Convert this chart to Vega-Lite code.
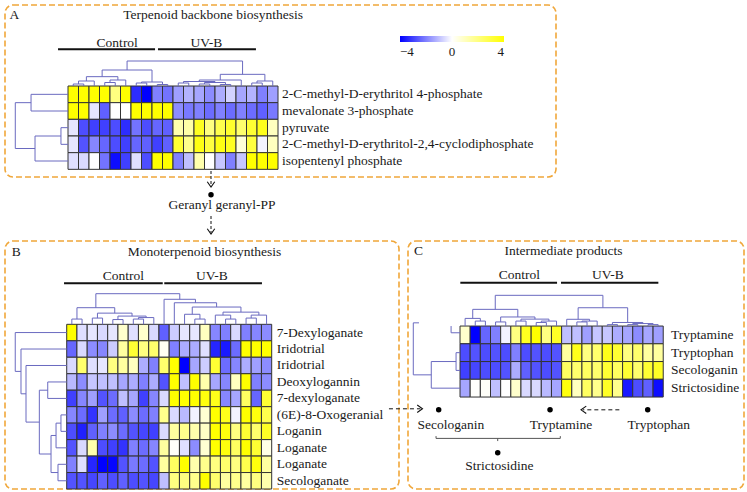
{
"$schema": "https://vega.github.io/schema/vega-lite/v6.json",
"padding": {"left": 4, "top": 4, "right": 4, "bottom": 4},
"background": "white",
"config": {
  "view": {"stroke": "#f0a73a", "strokeDash": [6, 3], "strokeWidth": 1.6, "cornerRadius": 8},
  "text": {"font": "Liberation Serif", "fontSize": 13.5, "color": "#1a1a1a", "baseline": "middle"},
  "legend": {"labelFont": "Liberation Serif"}
},
"datasets": {
  "heatA": [
    {"r":0,"c":0,"v":4},{"r":0,"c":1,"v":4},{"r":0,"c":2,"v":4},{"r":0,"c":3,"v":4},{"r":0,"c":4,"v":2},{"r":0,"c":5,"v":4},{"r":0,"c":6,"v":-3.3},{"r":0,"c":7,"v":-4},{"r":0,"c":8,"v":-2},{"r":0,"c":9,"v":-2.2},
    {"r":0,"c":10,"v":-1.5},{"r":0,"c":11,"v":-1.2},{"r":0,"c":12,"v":-1.4},{"r":0,"c":13,"v":-1.8},{"r":0,"c":14,"v":-1.3},{"r":0,"c":15,"v":-0.7},{"r":0,"c":16,"v":-1.4},{"r":0,"c":17,"v":-1.2},{"r":0,"c":18,"v":-2},{"r":0,"c":19,"v":-1.5},
    {"r":1,"c":0,"v":4},{"r":1,"c":1,"v":4},{"r":1,"c":2,"v":-0.4},{"r":1,"c":3,"v":-2.5},{"r":1,"c":4,"v":0},{"r":1,"c":5,"v":0},{"r":1,"c":6,"v":4},{"r":1,"c":7,"v":4},{"r":1,"c":8,"v":4},{"r":1,"c":9,"v":4},
    {"r":1,"c":10,"v":-1.8},{"r":1,"c":11,"v":-2.1},{"r":1,"c":12,"v":-2},{"r":1,"c":13,"v":-2.3},{"r":1,"c":14,"v":-2},{"r":1,"c":15,"v":-2.3},{"r":1,"c":16,"v":-2},{"r":1,"c":17,"v":-2.3},{"r":1,"c":18,"v":-2.5},{"r":1,"c":19,"v":-2.1},
    {"r":2,"c":0,"v":-0.4},{"r":2,"c":1,"v":-2.8},{"r":2,"c":2,"v":-3},{"r":2,"c":3,"v":-3},{"r":2,"c":4,"v":-2.8},{"r":2,"c":5,"v":-3.3},{"r":2,"c":6,"v":-2.2},{"r":2,"c":7,"v":-2.8},{"r":2,"c":8,"v":-2.4},{"r":2,"c":9,"v":-2.5},
    {"r":2,"c":10,"v":1.3},{"r":2,"c":11,"v":1.4},{"r":2,"c":12,"v":3.5},{"r":2,"c":13,"v":2},{"r":2,"c":14,"v":2.8},{"r":2,"c":15,"v":3.3},{"r":2,"c":16,"v":2.3},{"r":2,"c":17,"v":3.2},{"r":2,"c":18,"v":3.6},{"r":2,"c":19,"v":1},
    {"r":3,"c":0,"v":-0.4},{"r":3,"c":1,"v":-2.7},{"r":3,"c":2,"v":-1.9},{"r":3,"c":3,"v":-2.4},{"r":3,"c":4,"v":-2.8},{"r":3,"c":5,"v":-3},{"r":3,"c":6,"v":-2.4},{"r":3,"c":7,"v":-2.5},{"r":3,"c":8,"v":-3},{"r":3,"c":9,"v":-2.5},
    {"r":3,"c":10,"v":3.2},{"r":3,"c":11,"v":1.8},{"r":3,"c":12,"v":3.7},{"r":3,"c":13,"v":3},{"r":3,"c":14,"v":3.7},{"r":3,"c":15,"v":3.5},{"r":3,"c":16,"v":0.6},{"r":3,"c":17,"v":3},{"r":3,"c":18,"v":-0.2},{"r":3,"c":19,"v":1},
    {"r":4,"c":0,"v":-0.5},{"r":4,"c":1,"v":-0.6},{"r":4,"c":2,"v":0},{"r":4,"c":3,"v":-2.2},{"r":4,"c":4,"v":-3.8},{"r":4,"c":5,"v":-3},{"r":4,"c":6,"v":-0.5},{"r":4,"c":7,"v":-2.8},{"r":4,"c":8,"v":4},{"r":4,"c":9,"v":4},
    {"r":4,"c":10,"v":-2},{"r":4,"c":11,"v":-1},{"r":4,"c":12,"v":1.3},{"r":4,"c":13,"v":0},{"r":4,"c":14,"v":-0.9},{"r":4,"c":15,"v":-2},{"r":4,"c":16,"v":-0.9},{"r":4,"c":17,"v":4},{"r":4,"c":18,"v":4},{"r":4,"c":19,"v":4}
  ],
  "heatB": [
    {"r":0,"c":0,"v":4},{"r":0,"c":1,"v":-0.5},{"r":0,"c":2,"v":-0.4},{"r":0,"c":3,"v":-0.6},{"r":0,"c":4,"v":-0.4},{"r":0,"c":5,"v":0.8},{"r":0,"c":6,"v":-0.5},{"r":0,"c":7,"v":0.8},{"r":0,"c":8,"v":-0.6},{"r":0,"c":9,"v":-2.5},
    {"r":0,"c":10,"v":-0.8},{"r":0,"c":11,"v":-0.4},{"r":0,"c":12,"v":-0.4},{"r":0,"c":13,"v":1},{"r":0,"c":14,"v":-1.9},{"r":0,"c":15,"v":-2},{"r":0,"c":16,"v":-0.6},{"r":0,"c":17,"v":-2},{"r":0,"c":18,"v":-1.9},{"r":0,"c":19,"v":-1.8},
    {"r":1,"c":0,"v":-2.4},{"r":1,"c":1,"v":-0.6},{"r":1,"c":2,"v":-1.8},{"r":1,"c":3,"v":-1.9},{"r":1,"c":4,"v":-0.8},{"r":1,"c":5,"v":1.5},{"r":1,"c":6,"v":3.2},{"r":1,"c":7,"v":2},{"r":1,"c":8,"v":2.3},{"r":1,"c":9,"v":0.2},
    {"r":1,"c":10,"v":-2},{"r":1,"c":11,"v":-1.3},{"r":1,"c":12,"v":-1.3},{"r":1,"c":13,"v":-0.5},{"r":1,"c":14,"v":-3.4},{"r":1,"c":15,"v":-3.6},{"r":1,"c":16,"v":-2.3},{"r":1,"c":17,"v":4},{"r":1,"c":18,"v":4},{"r":1,"c":19,"v":4},
    {"r":2,"c":0,"v":-0.6},{"r":2,"c":1,"v":2.3},{"r":2,"c":2,"v":-0.5},{"r":2,"c":3,"v":-0.4},{"r":2,"c":4,"v":2},{"r":2,"c":5,"v":1.5},{"r":2,"c":6,"v":1},{"r":2,"c":7,"v":-1.3},{"r":2,"c":8,"v":-2},{"r":2,"c":9,"v":2.3},
    {"r":2,"c":10,"v":4},{"r":2,"c":11,"v":-4},{"r":2,"c":12,"v":-1.4},{"r":2,"c":13,"v":-0.8},{"r":2,"c":14,"v":3.2},{"r":2,"c":15,"v":-2.3},{"r":2,"c":16,"v":-1.9},{"r":2,"c":17,"v":-1.3},{"r":2,"c":18,"v":-1.5},{"r":2,"c":19,"v":-1.8},
    {"r":3,"c":0,"v":-1.1},{"r":3,"c":1,"v":-1.8},{"r":3,"c":2,"v":-0.9},{"r":3,"c":3,"v":-1},{"r":3,"c":4,"v":-1},{"r":3,"c":5,"v":-1.4},{"r":3,"c":6,"v":-1.3},{"r":3,"c":7,"v":-2},{"r":3,"c":8,"v":-1.3},{"r":3,"c":9,"v":-2.7},
    {"r":3,"c":10,"v":4},{"r":3,"c":11,"v":-1},{"r":3,"c":12,"v":4},{"r":3,"c":13,"v":1.3},{"r":3,"c":14,"v":-1.4},{"r":3,"c":15,"v":-1.9},{"r":3,"c":16,"v":1},{"r":3,"c":17,"v":4},{"r":3,"c":18,"v":-2},{"r":3,"c":19,"v":-1.8},
    {"r":4,"c":0,"v":-3},{"r":4,"c":1,"v":-1.9},{"r":4,"c":2,"v":-1.5},{"r":4,"c":3,"v":-2.7},{"r":4,"c":4,"v":-2.3},{"r":4,"c":5,"v":-1},{"r":4,"c":6,"v":-1.4},{"r":4,"c":7,"v":-3},{"r":4,"c":8,"v":-1.9},{"r":4,"c":9,"v":-0.6},
    {"r":4,"c":10,"v":4},{"r":4,"c":11,"v":4},{"r":4,"c":12,"v":4},{"r":4,"c":13,"v":3.8},{"r":4,"c":14,"v":3.6},{"r":4,"c":15,"v":-1.9},{"r":4,"c":16,"v":-1.4},{"r":4,"c":17,"v":2.5},{"r":4,"c":18,"v":-2.4},{"r":4,"c":19,"v":3.2},
    {"r":5,"c":0,"v":-1.9},{"r":5,"c":1,"v":-2.3},{"r":5,"c":2,"v":-3.2},{"r":5,"c":3,"v":-1.5},{"r":5,"c":4,"v":-2.3},{"r":5,"c":5,"v":-2.5},{"r":5,"c":6,"v":-1.8},{"r":5,"c":7,"v":-2.3},{"r":5,"c":8,"v":-2},{"r":5,"c":9,"v":1.8},
    {"r":5,"c":10,"v":-0.6},{"r":5,"c":11,"v":-1.1},{"r":5,"c":12,"v":-0.2},{"r":5,"c":13,"v":0.7},{"r":5,"c":14,"v":4},{"r":5,"c":15,"v":3.6},{"r":5,"c":16,"v":-0.2},{"r":5,"c":17,"v":4},{"r":5,"c":18,"v":3.8},{"r":5,"c":19,"v":2.8},
    {"r":6,"c":0,"v":-2.8},{"r":6,"c":1,"v":-3.5},{"r":6,"c":2,"v":-2.5},{"r":6,"c":3,"v":-2},{"r":6,"c":4,"v":-1.8},{"r":6,"c":5,"v":-2.3},{"r":6,"c":6,"v":-2.7},{"r":6,"c":7,"v":-2.9},{"r":6,"c":8,"v":-3},{"r":6,"c":9,"v":-0.6},
    {"r":6,"c":10,"v":1.5},{"r":6,"c":11,"v":1.8},{"r":6,"c":12,"v":1.3},{"r":6,"c":13,"v":0.9},{"r":6,"c":14,"v":4},{"r":6,"c":15,"v":3.8},{"r":6,"c":16,"v":2},{"r":6,"c":17,"v":3.2},{"r":6,"c":18,"v":2.3},{"r":6,"c":19,"v":3.4},
    {"r":7,"c":0,"v":-2.7},{"r":7,"c":1,"v":-0.6},{"r":7,"c":2,"v":1.3},{"r":7,"c":3,"v":-2.8},{"r":7,"c":4,"v":-3},{"r":7,"c":5,"v":-3.2},{"r":7,"c":6,"v":-2},{"r":7,"c":7,"v":-2.3},{"r":7,"c":8,"v":-1.9},{"r":7,"c":9,"v":1.5},
    {"r":7,"c":10,"v":0.1},{"r":7,"c":11,"v":-0.5},{"r":7,"c":12,"v":-1.8},{"r":7,"c":13,"v":0.7},{"r":7,"c":14,"v":4},{"r":7,"c":15,"v":3.8},{"r":7,"c":16,"v":2.5},{"r":7,"c":17,"v":4},{"r":7,"c":18,"v":3.2},{"r":7,"c":19,"v":0.4},
    {"r":8,"c":0,"v":-2},{"r":8,"c":1,"v":-0.5},{"r":8,"c":2,"v":-3.4},{"r":8,"c":3,"v":-4},{"r":8,"c":4,"v":-3.9},{"r":8,"c":5,"v":-2.7},{"r":8,"c":6,"v":-2.1},{"r":8,"c":7,"v":-2.3},{"r":8,"c":8,"v":-2.7},{"r":8,"c":9,"v":1.5},
    {"r":8,"c":10,"v":2.5},{"r":8,"c":11,"v":4},{"r":8,"c":12,"v":1.3},{"r":8,"c":13,"v":1.8},{"r":8,"c":14,"v":2},{"r":8,"c":15,"v":2.3},{"r":8,"c":16,"v":2},{"r":8,"c":17,"v":2.8},{"r":8,"c":18,"v":3.8},{"r":8,"c":19,"v":1.5},
    {"r":9,"c":0,"v":-2.7},{"r":9,"c":1,"v":-2.7},{"r":9,"c":2,"v":-2.9},{"r":9,"c":3,"v":-2.5},{"r":9,"c":4,"v":-2.8},{"r":9,"c":5,"v":-2.5},{"r":9,"c":6,"v":-2.8},{"r":9,"c":7,"v":-2.7},{"r":9,"c":8,"v":-2.9},{"r":9,"c":9,"v":-1},
    {"r":9,"c":10,"v":2},{"r":9,"c":11,"v":2},{"r":9,"c":12,"v":1.8},{"r":9,"c":13,"v":4},{"r":9,"c":14,"v":2.3},{"r":9,"c":15,"v":1.5},{"r":9,"c":16,"v":1.8},{"r":9,"c":17,"v":1.5},{"r":9,"c":18,"v":2},{"r":9,"c":19,"v":1.3}
  ],
  "heatC": [
    {"r":0,"c":0,"v":0.8},{"r":0,"c":1,"v":-4},{"r":0,"c":2,"v":-2.4},{"r":0,"c":3,"v":-2},{"r":0,"c":4,"v":-0.2},{"r":0,"c":5,"v":2},{"r":0,"c":6,"v":3.5},{"r":0,"c":7,"v":4},{"r":0,"c":8,"v":2},{"r":0,"c":9,"v":3.4},
    {"r":0,"c":10,"v":-1},{"r":0,"c":11,"v":-1},{"r":0,"c":12,"v":-1.5},{"r":0,"c":13,"v":-0.9},{"r":0,"c":14,"v":-0.9},{"r":0,"c":15,"v":-1.3},{"r":0,"c":16,"v":-1.4},{"r":0,"c":17,"v":-1.8},{"r":0,"c":18,"v":-1.4},{"r":0,"c":19,"v":-1.5},
    {"r":1,"c":0,"v":-2.8},{"r":1,"c":1,"v":-2.7},{"r":1,"c":2,"v":-2.8},{"r":1,"c":3,"v":-2.7},{"r":1,"c":4,"v":-2.8},{"r":1,"c":5,"v":-2},{"r":1,"c":6,"v":-2.8},{"r":1,"c":7,"v":-2.7},{"r":1,"c":8,"v":-2.8},{"r":1,"c":9,"v":-2.7},
    {"r":1,"c":10,"v":1.5},{"r":1,"c":11,"v":3.6},{"r":1,"c":12,"v":2},{"r":1,"c":13,"v":2.3},{"r":1,"c":14,"v":3.6},{"r":1,"c":15,"v":3.2},{"r":1,"c":16,"v":2},{"r":1,"c":17,"v":2.3},{"r":1,"c":18,"v":1.5},{"r":1,"c":19,"v":1.5},
    {"r":2,"c":0,"v":-3},{"r":2,"c":1,"v":-2.9},{"r":2,"c":2,"v":-2.8},{"r":2,"c":3,"v":-2.8},{"r":2,"c":4,"v":-2.7},{"r":2,"c":5,"v":-1.3},{"r":2,"c":6,"v":-2.5},{"r":2,"c":7,"v":-2.7},{"r":2,"c":8,"v":-2.8},{"r":2,"c":9,"v":-2.7},
    {"r":2,"c":10,"v":2.5},{"r":2,"c":11,"v":2.3},{"r":2,"c":12,"v":2.5},{"r":2,"c":13,"v":2.3},{"r":2,"c":14,"v":3.2},{"r":2,"c":15,"v":2.5},{"r":2,"c":16,"v":3.2},{"r":2,"c":17,"v":2.3},{"r":2,"c":18,"v":3.2},{"r":2,"c":19,"v":3.4},
    {"r":3,"c":0,"v":-1.4},{"r":3,"c":1,"v":0.05},{"r":3,"c":2,"v":0.1},{"r":3,"c":3,"v":-1},{"r":3,"c":4,"v":0},{"r":3,"c":5,"v":0.8},{"r":3,"c":6,"v":-0.6},{"r":3,"c":7,"v":-0.6},{"r":3,"c":8,"v":-1.1},{"r":3,"c":9,"v":-1.4},
    {"r":3,"c":10,"v":3.8},{"r":3,"c":11,"v":1},{"r":3,"c":12,"v":2.5},{"r":3,"c":13,"v":1.8},{"r":3,"c":14,"v":3.4},{"r":3,"c":15,"v":1.8},{"r":3,"c":16,"v":-3.6},{"r":3,"c":17,"v":-2.8},{"r":3,"c":18,"v":-2.5},{"r":3,"c":19,"v":-3.8}
  ],
  "rowsA": [
    {"r":0,"name":"2-C-methyl-D-erythritol 4-phosphate"},{"r":1,"name":"mevalonate 3-phosphate"},{"r":2,"name":"pyruvate"},
    {"r":3,"name":"2-C-methyl-D-erythritol-2,4-cyclodiphosphate"},{"r":4,"name":"isopentenyl phosphate"}
  ],
  "rowsB": [
    {"r":0,"name":"7-Dexyloganate"},{"r":1,"name":"Iridotrial"},{"r":2,"name":"Iridotrial"},{"r":3,"name":"Deoxylogannin"},{"r":4,"name":"7-dexyloganate"},
    {"r":5,"name":"(6E)-8-Oxogeranial"},{"r":6,"name":"Loganin"},{"r":7,"name":"Loganate"},{"r":8,"name":"Loganate"},{"r":9,"name":"Secologanate"}
  ],
  "rowsC": [
    {"r":0,"name":"Tryptamine"},{"r":1,"name":"Tryptophan"},{"r":2,"name":"Secologanin"},{"r":3,"name":"Strictosidine"}
  ],
  "treeA_top": [
    {"p1":0,"p2":1,"h":-0.62,"h1":-0.5,"h2":-0.5},{"p1":0.5,"p2":2,"h":-0.8,"h1":-0.62,"h2":-0.5},
    {"p1":3,"p2":4,"h":-0.71,"h1":-0.5,"h2":-0.5},{"p1":3.5,"p2":5,"h":-0.86,"h1":-0.71,"h2":-0.5},
    {"p1":1.25,"p2":4.25,"h":-1.06,"h1":-0.8,"h2":-0.86},{"p1":6,"p2":7,"h":-0.68,"h1":-0.5,"h2":-0.5},
    {"p1":8,"p2":9,"h":-0.59,"h1":-0.5,"h2":-0.5},{"p1":6.5,"p2":8.5,"h":-0.74,"h1":-0.68,"h2":-0.59},
    {"p1":2.75,"p2":7.5,"h":-1.46,"h1":-1.06,"h2":-0.74},{"p1":10,"p2":11,"h":-0.68,"h1":-0.5,"h2":-0.5},
    {"p1":12,"p2":13,"h":-0.62,"h1":-0.5,"h2":-0.5},{"p1":14,"p2":15,"h":-0.59,"h1":-0.5,"h2":-0.5},
    {"p1":12.5,"p2":14.5,"h":-0.71,"h1":-0.62,"h2":-0.59},{"p1":10.5,"p2":13.5,"h":-0.77,"h1":-0.68,"h2":-0.71},
    {"p1":12,"p2":16,"h":-0.86,"h1":-0.77,"h2":-0.5},{"p1":17,"p2":18,"h":-0.68,"h1":-0.5,"h2":-0.5},
    {"p1":17.5,"p2":19,"h":-0.8,"h1":-0.68,"h2":-0.5},{"p1":14,"p2":18.25,"h":-1.2,"h1":-0.86,"h2":-0.8},
    {"p1":5.125,"p2":16.125,"h":-2.0,"h1":-1.46,"h2":-1.2}
  ],
  "treeA_left": [
    {"p1":0,"p2":1,"h":-4.02,"h1":-0.5,"h2":-0.5},{"p1":2,"p2":3,"h":-1.17,"h1":-0.5,"h2":-0.5},
    {"p1":2.5,"p2":4,"h":-3.64,"h1":-1.17,"h2":-0.5},{"p1":0.5,"p2":3.25,"h":-5.52,"h1":-4.02,"h2":-3.64}
  ],
  "treeB_top": [
    {"p1":0,"p2":1,"h":-0.82,"h1":-0.5,"h2":-0.5},{"p1":2,"p2":3,"h":-0.88,"h1":-0.5,"h2":-0.5},
    {"p1":4,"p2":5,"h":-0.79,"h1":-0.5,"h2":-0.5},{"p1":6,"p2":7,"h":-0.82,"h1":-0.5,"h2":-0.5},
    {"p1":6.5,"p2":8,"h":-0.91,"h1":-0.82,"h2":-0.5},{"p1":4.5,"p2":7.25,"h":-1.0,"h1":-0.79,"h2":-0.91},
    {"p1":2.5,"p2":5.875,"h":-1.18,"h1":-0.88,"h2":-1.0},{"p1":0.5,"p2":4.1875,"h":-1.51,"h1":-0.82,"h2":-1.18},
    {"p1":12,"p2":13,"h":-0.82,"h1":-0.5,"h2":-0.5},{"p1":11,"p2":12.5,"h":-1.11,"h1":-0.5,"h2":-0.82},
    {"p1":15,"p2":16,"h":-0.82,"h1":-0.5,"h2":-0.5},{"p1":14,"p2":15.5,"h":-1.06,"h1":-0.5,"h2":-0.82},
    {"p1":17,"p2":18,"h":-0.88,"h1":-0.5,"h2":-0.5},{"p1":17.5,"p2":19,"h":-1.06,"h1":-0.88,"h2":-0.5},
    {"p1":14.75,"p2":18.25,"h":-1.24,"h1":-1.06,"h2":-1.06},{"p1":11.75,"p2":16.5,"h":-1.55,"h1":-1.11,"h2":-1.24},
    {"p1":10,"p2":14.125,"h":-1.81,"h1":-0.5,"h2":-1.55},{"p1":9,"p2":12.0625,"h":-2.02,"h1":-0.5,"h2":-1.81},
    {"p1":2.34375,"p2":10.53125,"h":-2.36,"h1":-1.51,"h2":-2.02}
  ],
  "treeB_left": [
    {"p1":5,"p2":6,"h":-1.06,"h1":-0.5,"h2":-0.5},{"p1":5.5,"p2":7,"h":-1.54,"h1":-1.06,"h2":-0.5},
    {"p1":8,"p2":9,"h":-1.35,"h1":-0.5,"h2":-0.5},{"p1":6.25,"p2":8.5,"h":-2.03,"h1":-1.54,"h2":-1.35},
    {"p1":3,"p2":4,"h":-2.35,"h1":-0.5,"h2":-0.5},{"p1":3.5,"p2":7.375,"h":-3.17,"h1":-2.35,"h2":-2.03},
    {"p1":2,"p2":5.4375,"h":-4.47,"h1":-0.5,"h2":-3.17},{"p1":1,"p2":3.71875,"h":-4.96,"h1":-0.5,"h2":-4.47},
    {"p1":0,"p2":2.359,"h":-5.52,"h1":-0.5,"h2":-4.96}
  ],
  "treeC_top": [
    {"p1":1,"p2":2,"h":-0.78,"h1":-0.5,"h2":-0.5},{"p1":0,"p2":1.5,"h":-0.93,"h1":-0.5,"h2":-0.78},
    {"p1":3,"p2":4,"h":-0.73,"h1":-0.5,"h2":-0.5},{"p1":5,"p2":6,"h":-0.78,"h1":-0.5,"h2":-0.5},
    {"p1":7,"p2":8,"h":-0.7,"h1":-0.5,"h2":-0.5},{"p1":7.5,"p2":9,"h":-0.78,"h1":-0.7,"h2":-0.5},
    {"p1":5.5,"p2":8.25,"h":-0.89,"h1":-0.78,"h2":-0.78},{"p1":3.5,"p2":6.875,"h":-1.01,"h1":-0.73,"h2":-0.89},
    {"p1":0.75,"p2":5.1875,"h":-1.44,"h1":-0.93,"h2":-1.01},{"p1":11,"p2":12,"h":-0.73,"h1":-0.5,"h2":-0.5},
    {"p1":11.5,"p2":13,"h":-0.78,"h1":-0.73,"h2":-0.5},{"p1":10,"p2":12.25,"h":-0.88,"h1":-0.5,"h2":-0.78},
    {"p1":14,"p2":15,"h":-0.58,"h1":-0.5,"h2":-0.5},{"p1":16,"p2":17,"h":-0.58,"h1":-0.5,"h2":-0.5},
    {"p1":18,"p2":19,"h":-0.58,"h1":-0.5,"h2":-0.5},{"p1":16.5,"p2":18.5,"h":-0.64,"h1":-0.58,"h2":-0.58},
    {"p1":14.5,"p2":17.5,"h":-0.7,"h1":-0.58,"h2":-0.64},{"p1":11.125,"p2":16,"h":-1.53,"h1":-0.88,"h2":-0.7},
    {"p1":2.96875,"p2":13.5625,"h":-2.23,"h1":-1.44,"h2":-1.53}
  ],
  "treeC_left": [
    {"p1":1,"p2":2,"h":-0.89,"h1":-0.5,"h2":-0.5},{"p1":1.5,"p2":3,"h":-3.33,"h1":-0.89,"h2":-0.5},
    {"p1":-0.68,"p2":2.25,"h":-5.1,"h1":-4.54,"h2":-3.33},{"p1":-0.5,"p2":-0.12,"h":-1.38,"h1":-1.38,"h2":-0.5}
  ],
  "groupsA": [
    {"group":"Control","x1":-1.45,"x2":7.79,"y":-2.7,"lx":4.19,"ly":-3.1},
    {"group":"UV-B","x1":8.07,"x2":17.4,"y":-2.7,"lx":12.67,"ly":-3.1}
  ],
  "groupsB": [
    {"group":"Control","x1":-0.76,"x2":8.87,"y":-2.99,"lx":5.04,"ly":-3.43},
    {"group":"UV-B","x1":9.02,"x2":18.55,"y":-2.99,"lx":13.67,"ly":-3.43}
  ],
  "groupsC": [
    {"group":"Control","x1":-0.47,"x2":9.05,"y":-2.94,"lx":5.34,"ly":-3.37},
    {"group":"UV-B","x1":9.44,"x2":19.02,"y":-2.94,"lx":14.04,"ly":-3.37}
  ],
  "notesA": [
    {"text":"A","x":-5.61,"y":-4.76},{"text":"Terpenoid backbone biosynthesis","x":13.31,"y":-4.76},
    {"text":"Geranyl geranyl-PP","x":14.17,"y":6.61}
  ],
  "notesB": [
    {"text":"B","x":-5.42,"y":-4.91},{"text":"Monoterpenoid biosynthesis","x":12.94,"y":-4.91}
  ],
  "notesC": [
    {"text":"C","x":-4.58,"y":-4.73},{"text":"Intermediate products","x":9.68,"y":-4.73},
    {"text":"Secologanin","x":-1.39,"y":5.07},{"text":"Tryptamine","x":9.44,"y":5.07},
    {"text":"Tryptophan","x":19.06,"y":5.07},{"text":"Strictosidine","x":3.37,"y":7.39}
  ],
  "dashA": [{"x":13.12,"x2":13.12,"y":4.6,"y2":5.4},{"x":13.12,"x2":13.12,"y":7.3,"y2":8.3}],
  "headsA": [{"x":13.12,"y":5.56},{"x":13.12,"y":8.38}],
  "dotsA": [{"x":13.12,"y":6.02}],
  "dashB": [{"x":30.94,"x2":34.0,"y":4.63,"y2":4.63}],
  "headsB": [{"x":34.21,"y":4.63}],
  "dashC": [{"x":15.18,"x2":11.6,"y":4.22,"y2":4.22}],
  "headsC": [{"x":11.41,"y":4.22}],
  "dotsC": [{"x":-2.6,"y":4.22},{"x":8.36,"y":4.22},{"x":17.97,"y":4.22},{"x":3.21,"y":6.64}],
  "bracketC": [
    {"x":-2.86,"x2":9.37,"y":5.83,"y2":5.83},{"x":-2.86,"x2":-2.86,"y":5.7,"y2":5.83},
    {"x":9.37,"x2":9.37,"y":5.7,"y2":5.83},{"x":3.21,"x2":3.21,"y":5.83,"y2":5.98}
  ]
},
"bounds": "flush",
"spacing": 64,
"resolve": {"scale": {"color": "independent"}, "legend": {"color": "independent"}},
"vconcat": [
  {
    "width": 551, "height": 172,
    "layer": [
      {"data": {"name": "heatA"},
       "mark": {"type": "point", "shape": "M-1,-1.5873L1,-1.5873L1,1.5873L-1,1.5873Z", "size": 110.25, "filled": true, "opacity": 1, "stroke": "#333333", "strokeWidth": 1},
       "encoding": {
         "x": {"field": "c", "type": "quantitative", "scale": {"domain": [-6.5, 45.976], "nice": false}, "axis": null},
         "y": {"field": "r", "type": "quantitative", "scale": {"domain": [-5.36, 4.96], "nice": false, "reverse": true}, "axis": null},
         "color": {"field": "v", "type": "quantitative",
           "scale": {"domain": [-4, 0, 4], "range": ["#0000ff", "#ffffff", "#ffff00"], "interpolate": "rgb"},
           "legend": {"orient": "none", "legendX": 395, "legendY": 31, "direction": "horizontal", "gradientLength": 104, "gradientThickness": 6, "title": null, "values": [-4, 0, 4], "labelFont": "Liberation Serif", "labelFontSize": 13, "labelColor": "#1a1a1a", "labelOffset": 4, "gradientStrokeWidth": 0}}
       }},
      {"data": {"name": "rowsA"},
       "mark": {"type": "text", "align": "left"},
       "encoding": {
         "x": {"datum": 19.88, "type": "quantitative", "scale": {"domain": [-6.5, 45.976], "nice": false}, "axis": null},
         "y": {"field": "r", "type": "quantitative", "scale": {"domain": [-5.36, 4.96], "nice": false, "reverse": true}, "axis": null},
         "text": {"field": "name"}
       }},
      {"data": {"name": "treeA_top"},
       "layer": [
         {"mark": {"type": "rule", "color": "#6a6ac0", "strokeWidth": 1},
          "encoding": {"x": {"field": "p1", "type": "quantitative", "scale": {"domain": [-6.5, 45.976], "nice": false}, "axis": null}, "x2": {"field": "p2"},
                       "y": {"field": "h", "type": "quantitative", "scale": {"domain": [-5.36, 4.96], "nice": false, "reverse": true}, "axis": null}}},
         {"mark": {"type": "rule", "color": "#6a6ac0", "strokeWidth": 1},
          "encoding": {"x": {"field": "p1", "type": "quantitative", "scale": {"domain": [-6.5, 45.976], "nice": false}, "axis": null},
                       "y": {"field": "h", "type": "quantitative", "scale": {"domain": [-5.36, 4.96], "nice": false, "reverse": true}, "axis": null}, "y2": {"field": "h1"}}},
         {"mark": {"type": "rule", "color": "#6a6ac0", "strokeWidth": 1},
          "encoding": {"x": {"field": "p2", "type": "quantitative", "scale": {"domain": [-6.5, 45.976], "nice": false}, "axis": null},
                       "y": {"field": "h", "type": "quantitative", "scale": {"domain": [-5.36, 4.96], "nice": false, "reverse": true}, "axis": null}, "y2": {"field": "h2"}}}
       ]},
      {"data": {"name": "treeA_left"},
       "layer": [
         {"mark": {"type": "rule", "color": "#6a6ac0", "strokeWidth": 1},
          "encoding": {"x": {"field": "h", "type": "quantitative", "scale": {"domain": [-6.5, 45.976], "nice": false}, "axis": null},
                       "y": {"field": "p1", "type": "quantitative", "scale": {"domain": [-5.36, 4.96], "nice": false, "reverse": true}, "axis": null}, "y2": {"field": "p2"}}},
         {"mark": {"type": "rule", "color": "#6a6ac0", "strokeWidth": 1},
          "encoding": {"x": {"field": "h", "type": "quantitative", "scale": {"domain": [-6.5, 45.976], "nice": false}, "axis": null}, "x2": {"field": "h1"},
                       "y": {"field": "p1", "type": "quantitative", "scale": {"domain": [-5.36, 4.96], "nice": false, "reverse": true}, "axis": null}}},
         {"mark": {"type": "rule", "color": "#6a6ac0", "strokeWidth": 1},
          "encoding": {"x": {"field": "h", "type": "quantitative", "scale": {"domain": [-6.5, 45.976], "nice": false}, "axis": null}, "x2": {"field": "h2"},
                       "y": {"field": "p2", "type": "quantitative", "scale": {"domain": [-5.36, 4.96], "nice": false, "reverse": true}, "axis": null}}}
       ]},
      {"data": {"name": "groupsA"},
       "layer": [
         {"mark": {"type": "rule", "color": "#111111", "strokeWidth": 2},
          "encoding": {"x": {"field": "x1", "type": "quantitative", "scale": {"domain": [-6.5, 45.976], "nice": false}, "axis": null}, "x2": {"field": "x2"},
                       "y": {"field": "y", "type": "quantitative", "scale": {"domain": [-5.36, 4.96], "nice": false, "reverse": true}, "axis": null}}},
         {"mark": {"type": "text", "align": "center"},
          "encoding": {"x": {"field": "lx", "type": "quantitative", "scale": {"domain": [-6.5, 45.976], "nice": false}, "axis": null},
                       "y": {"field": "ly", "type": "quantitative", "scale": {"domain": [-5.36, 4.96], "nice": false, "reverse": true}, "axis": null},
                       "text": {"field": "group"}}}
       ]},
      {"data": {"name": "notesA"},
       "mark": {"type": "text", "align": "center"},
       "encoding": {"x": {"field": "x", "type": "quantitative", "scale": {"domain": [-6.5, 45.976], "nice": false}, "axis": null},
                    "y": {"field": "y", "type": "quantitative", "scale": {"domain": [-5.36, 4.96], "nice": false, "reverse": true}, "axis": null},
                    "text": {"field": "text"}}},
      {"data": {"name": "dashA"},
       "mark": {"type": "rule", "color": "#111111", "strokeWidth": 1, "strokeDash": [3, 2]},
       "encoding": {"x": {"field": "x", "type": "quantitative", "scale": {"domain": [-6.5, 45.976], "nice": false}, "axis": null}, "x2": {"field": "x2"},
                    "y": {"field": "y", "type": "quantitative", "scale": {"domain": [-5.36, 4.96], "nice": false, "reverse": true}, "axis": null}, "y2": {"field": "y2"}}},
      {"data": {"name": "headsA"},
       "mark": {"type": "point", "shape": "M-1.4,-1L0,0L-1.4,1", "size": 56, "filled": false, "opacity": 1, "stroke": "#111111", "strokeWidth": 1.1, "angle": 90},
       "encoding": {"x": {"field": "x", "type": "quantitative", "scale": {"domain": [-6.5, 45.976], "nice": false}, "axis": null},
                    "y": {"field": "y", "type": "quantitative", "scale": {"domain": [-5.36, 4.96], "nice": false, "reverse": true}, "axis": null}}},
      {"data": {"name": "dotsA"},
       "mark": {"type": "point", "shape": "circle", "size": 30, "filled": true, "opacity": 1, "color": "#000000"},
       "encoding": {"x": {"field": "x", "type": "quantitative", "scale": {"domain": [-6.5, 45.976], "nice": false}, "axis": null},
                    "y": {"field": "y", "type": "quantitative", "scale": {"domain": [-5.36, 4.96], "nice": false, "reverse": true}, "axis": null}}}
    ]
  },
  {
    "bounds": "flush",
    "spacing": 9,
    "resolve": {"scale": {"color": "independent"}, "legend": {"color": "independent"}},
    "hconcat": [
      {
        "width": 394, "height": 248,
        "layer": [
          {"data": {"name": "heatB"},
           "mark": {"type": "point", "shape": "M-1,-1.6068L1,-1.6068L1,1.6068L-1,1.6068Z", "size": 105.06, "filled": true, "opacity": 1, "stroke": "#333333", "strokeWidth": 1},
           "encoding": {
             "x": {"field": "c", "type": "quantitative", "scale": {"domain": [-6.52, 31.92], "nice": false}, "axis": null},
             "y": {"field": "r", "type": "quantitative", "scale": {"domain": [-5.56, 9.5], "nice": false, "reverse": true}, "axis": null},
             "color": {"field": "v", "type": "quantitative",
               "scale": {"domain": [-4, 0, 4], "range": ["#0000ff", "#ffffff", "#ffff00"], "interpolate": "rgb"}, "legend": null}
           }},
          {"data": {"name": "rowsB"},
           "mark": {"type": "text", "align": "left"},
           "encoding": {
             "x": {"datum": 19.99, "type": "quantitative", "scale": {"domain": [-6.52, 31.92], "nice": false}, "axis": null},
             "y": {"field": "r", "type": "quantitative", "scale": {"domain": [-5.56, 9.5], "nice": false, "reverse": true}, "axis": null},
             "text": {"field": "name"}
           }},
          {"data": {"name": "treeB_top"},
           "layer": [
             {"mark": {"type": "rule", "color": "#6a6ac0", "strokeWidth": 1},
              "encoding": {"x": {"field": "p1", "type": "quantitative", "scale": {"domain": [-6.52, 31.92], "nice": false}, "axis": null}, "x2": {"field": "p2"},
                           "y": {"field": "h", "type": "quantitative", "scale": {"domain": [-5.56, 9.5], "nice": false, "reverse": true}, "axis": null}}},
             {"mark": {"type": "rule", "color": "#6a6ac0", "strokeWidth": 1},
              "encoding": {"x": {"field": "p1", "type": "quantitative", "scale": {"domain": [-6.52, 31.92], "nice": false}, "axis": null},
                           "y": {"field": "h", "type": "quantitative", "scale": {"domain": [-5.56, 9.5], "nice": false, "reverse": true}, "axis": null}, "y2": {"field": "h1"}}},
             {"mark": {"type": "rule", "color": "#6a6ac0", "strokeWidth": 1},
              "encoding": {"x": {"field": "p2", "type": "quantitative", "scale": {"domain": [-6.52, 31.92], "nice": false}, "axis": null},
                           "y": {"field": "h", "type": "quantitative", "scale": {"domain": [-5.56, 9.5], "nice": false, "reverse": true}, "axis": null}, "y2": {"field": "h2"}}}
           ]},
          {"data": {"name": "treeB_left"},
           "layer": [
             {"mark": {"type": "rule", "color": "#6a6ac0", "strokeWidth": 1},
              "encoding": {"x": {"field": "h", "type": "quantitative", "scale": {"domain": [-6.52, 31.92], "nice": false}, "axis": null},
                           "y": {"field": "p1", "type": "quantitative", "scale": {"domain": [-5.56, 9.5], "nice": false, "reverse": true}, "axis": null}, "y2": {"field": "p2"}}},
             {"mark": {"type": "rule", "color": "#6a6ac0", "strokeWidth": 1},
              "encoding": {"x": {"field": "h", "type": "quantitative", "scale": {"domain": [-6.52, 31.92], "nice": false}, "axis": null}, "x2": {"field": "h1"},
                           "y": {"field": "p1", "type": "quantitative", "scale": {"domain": [-5.56, 9.5], "nice": false, "reverse": true}, "axis": null}}},
             {"mark": {"type": "rule", "color": "#6a6ac0", "strokeWidth": 1},
              "encoding": {"x": {"field": "h", "type": "quantitative", "scale": {"domain": [-6.52, 31.92], "nice": false}, "axis": null}, "x2": {"field": "h2"},
                           "y": {"field": "p2", "type": "quantitative", "scale": {"domain": [-5.56, 9.5], "nice": false, "reverse": true}, "axis": null}}}
           ]},
          {"data": {"name": "groupsB"},
           "layer": [
             {"mark": {"type": "rule", "color": "#111111", "strokeWidth": 2},
              "encoding": {"x": {"field": "x1", "type": "quantitative", "scale": {"domain": [-6.52, 31.92], "nice": false}, "axis": null}, "x2": {"field": "x2"},
                           "y": {"field": "y", "type": "quantitative", "scale": {"domain": [-5.56, 9.5], "nice": false, "reverse": true}, "axis": null}}},
             {"mark": {"type": "text", "align": "center"},
              "encoding": {"x": {"field": "lx", "type": "quantitative", "scale": {"domain": [-6.52, 31.92], "nice": false}, "axis": null},
                           "y": {"field": "ly", "type": "quantitative", "scale": {"domain": [-5.56, 9.5], "nice": false, "reverse": true}, "axis": null},
                           "text": {"field": "group"}}}
           ]},
          {"data": {"name": "notesB"},
           "mark": {"type": "text", "align": "center"},
           "encoding": {"x": {"field": "x", "type": "quantitative", "scale": {"domain": [-6.52, 31.92], "nice": false}, "axis": null},
                        "y": {"field": "y", "type": "quantitative", "scale": {"domain": [-5.56, 9.5], "nice": false, "reverse": true}, "axis": null},
                        "text": {"field": "text"}}},
          {"data": {"name": "dashB"},
           "mark": {"type": "rule", "color": "#111111", "strokeWidth": 1, "strokeDash": [4, 3]},
           "encoding": {"x": {"field": "x", "type": "quantitative", "scale": {"domain": [-6.52, 31.92], "nice": false}, "axis": null}, "x2": {"field": "x2"},
                        "y": {"field": "y", "type": "quantitative", "scale": {"domain": [-5.56, 9.5], "nice": false, "reverse": true}, "axis": null}, "y2": {"field": "y2"}}},
          {"data": {"name": "headsB"},
           "mark": {"type": "point", "shape": "M-1.4,-1L0,0L-1.4,1", "size": 56, "filled": false, "opacity": 1, "stroke": "#111111", "strokeWidth": 1.1, "angle": 0},
           "encoding": {"x": {"field": "x", "type": "quantitative", "scale": {"domain": [-6.52, 31.92], "nice": false}, "axis": null},
                        "y": {"field": "y", "type": "quantitative", "scale": {"domain": [-5.56, 9.5], "nice": false, "reverse": true}, "axis": null}}}
        ]
      },
      {
        "width": 336, "height": 248,
        "layer": [
          {"data": {"name": "heatC"},
           "mark": {"type": "point", "shape": "M-1,-1.747L1,-1.747L1,1.747L-1,1.747Z", "size": 103.23, "filled": true, "opacity": 1, "stroke": "#333333", "strokeWidth": 1},
           "encoding": {
             "x": {"field": "c", "type": "quantitative", "scale": {"domain": [-5.62, 27.45], "nice": false}, "axis": null},
             "y": {"field": "r", "type": "quantitative", "scale": {"domain": [-5.29, 8.68], "nice": false, "reverse": true}, "axis": null},
             "color": {"field": "v", "type": "quantitative",
               "scale": {"domain": [-4, 0, 4], "range": ["#0000ff", "#ffffff", "#ffff00"], "interpolate": "rgb"}, "legend": null}
           }},
          {"data": {"name": "rowsC"},
           "mark": {"type": "text", "align": "left"},
           "encoding": {
             "x": {"datum": 20.27, "type": "quantitative", "scale": {"domain": [-5.62, 27.45], "nice": false}, "axis": null},
             "y": {"field": "r", "type": "quantitative", "scale": {"domain": [-5.29, 8.68], "nice": false, "reverse": true}, "axis": null},
             "text": {"field": "name"}
           }},
          {"data": {"name": "treeC_top"},
           "layer": [
             {"mark": {"type": "rule", "color": "#6a6ac0", "strokeWidth": 1},
              "encoding": {"x": {"field": "p1", "type": "quantitative", "scale": {"domain": [-5.62, 27.45], "nice": false}, "axis": null}, "x2": {"field": "p2"},
                           "y": {"field": "h", "type": "quantitative", "scale": {"domain": [-5.29, 8.68], "nice": false, "reverse": true}, "axis": null}}},
             {"mark": {"type": "rule", "color": "#6a6ac0", "strokeWidth": 1},
              "encoding": {"x": {"field": "p1", "type": "quantitative", "scale": {"domain": [-5.62, 27.45], "nice": false}, "axis": null},
                           "y": {"field": "h", "type": "quantitative", "scale": {"domain": [-5.29, 8.68], "nice": false, "reverse": true}, "axis": null}, "y2": {"field": "h1"}}},
             {"mark": {"type": "rule", "color": "#6a6ac0", "strokeWidth": 1},
              "encoding": {"x": {"field": "p2", "type": "quantitative", "scale": {"domain": [-5.62, 27.45], "nice": false}, "axis": null},
                           "y": {"field": "h", "type": "quantitative", "scale": {"domain": [-5.29, 8.68], "nice": false, "reverse": true}, "axis": null}, "y2": {"field": "h2"}}}
           ]},
          {"data": {"name": "treeC_left"},
           "layer": [
             {"mark": {"type": "rule", "color": "#6a6ac0", "strokeWidth": 1},
              "encoding": {"x": {"field": "h", "type": "quantitative", "scale": {"domain": [-5.62, 27.45], "nice": false}, "axis": null},
                           "y": {"field": "p1", "type": "quantitative", "scale": {"domain": [-5.29, 8.68], "nice": false, "reverse": true}, "axis": null}, "y2": {"field": "p2"}}},
             {"mark": {"type": "rule", "color": "#6a6ac0", "strokeWidth": 1},
              "encoding": {"x": {"field": "h", "type": "quantitative", "scale": {"domain": [-5.62, 27.45], "nice": false}, "axis": null}, "x2": {"field": "h1"},
                           "y": {"field": "p1", "type": "quantitative", "scale": {"domain": [-5.29, 8.68], "nice": false, "reverse": true}, "axis": null}}},
             {"mark": {"type": "rule", "color": "#6a6ac0", "strokeWidth": 1},
              "encoding": {"x": {"field": "h", "type": "quantitative", "scale": {"domain": [-5.62, 27.45], "nice": false}, "axis": null}, "x2": {"field": "h2"},
                           "y": {"field": "p2", "type": "quantitative", "scale": {"domain": [-5.29, 8.68], "nice": false, "reverse": true}, "axis": null}}}
           ]},
          {"data": {"name": "groupsC"},
           "layer": [
             {"mark": {"type": "rule", "color": "#111111", "strokeWidth": 2},
              "encoding": {"x": {"field": "x1", "type": "quantitative", "scale": {"domain": [-5.62, 27.45], "nice": false}, "axis": null}, "x2": {"field": "x2"},
                           "y": {"field": "y", "type": "quantitative", "scale": {"domain": [-5.29, 8.68], "nice": false, "reverse": true}, "axis": null}}},
             {"mark": {"type": "text", "align": "center"},
              "encoding": {"x": {"field": "lx", "type": "quantitative", "scale": {"domain": [-5.62, 27.45], "nice": false}, "axis": null},
                           "y": {"field": "ly", "type": "quantitative", "scale": {"domain": [-5.29, 8.68], "nice": false, "reverse": true}, "axis": null},
                           "text": {"field": "group"}}}
           ]},
          {"data": {"name": "notesC"},
           "mark": {"type": "text", "align": "center"},
           "encoding": {"x": {"field": "x", "type": "quantitative", "scale": {"domain": [-5.62, 27.45], "nice": false}, "axis": null},
                        "y": {"field": "y", "type": "quantitative", "scale": {"domain": [-5.29, 8.68], "nice": false, "reverse": true}, "axis": null},
                        "text": {"field": "text"}}},
          {"data": {"name": "dashC"},
           "mark": {"type": "rule", "color": "#111111", "strokeWidth": 1, "strokeDash": [4, 3]},
           "encoding": {"x": {"field": "x", "type": "quantitative", "scale": {"domain": [-5.62, 27.45], "nice": false}, "axis": null}, "x2": {"field": "x2"},
                        "y": {"field": "y", "type": "quantitative", "scale": {"domain": [-5.29, 8.68], "nice": false, "reverse": true}, "axis": null}, "y2": {"field": "y2"}}},
          {"data": {"name": "bracketC"},
           "mark": {"type": "rule", "color": "#555555", "strokeWidth": 1},
           "encoding": {"x": {"field": "x", "type": "quantitative", "scale": {"domain": [-5.62, 27.45], "nice": false}, "axis": null}, "x2": {"field": "x2"},
                        "y": {"field": "y", "type": "quantitative", "scale": {"domain": [-5.29, 8.68], "nice": false, "reverse": true}, "axis": null}, "y2": {"field": "y2"}}},
          {"data": {"name": "headsC"},
           "mark": {"type": "point", "shape": "M-1.4,-1L0,0L-1.4,1", "size": 56, "filled": false, "opacity": 1, "stroke": "#111111", "strokeWidth": 1.1, "angle": 180},
           "encoding": {"x": {"field": "x", "type": "quantitative", "scale": {"domain": [-5.62, 27.45], "nice": false}, "axis": null},
                        "y": {"field": "y", "type": "quantitative", "scale": {"domain": [-5.29, 8.68], "nice": false, "reverse": true}, "axis": null}}},
          {"data": {"name": "dotsC"},
           "mark": {"type": "point", "shape": "circle", "size": 30, "filled": true, "opacity": 1, "color": "#000000"},
           "encoding": {"x": {"field": "x", "type": "quantitative", "scale": {"domain": [-5.62, 27.45], "nice": false}, "axis": null},
                        "y": {"field": "y", "type": "quantitative", "scale": {"domain": [-5.29, 8.68], "nice": false, "reverse": true}, "axis": null}}}
        ]
      }
    ]
  }
]
}
